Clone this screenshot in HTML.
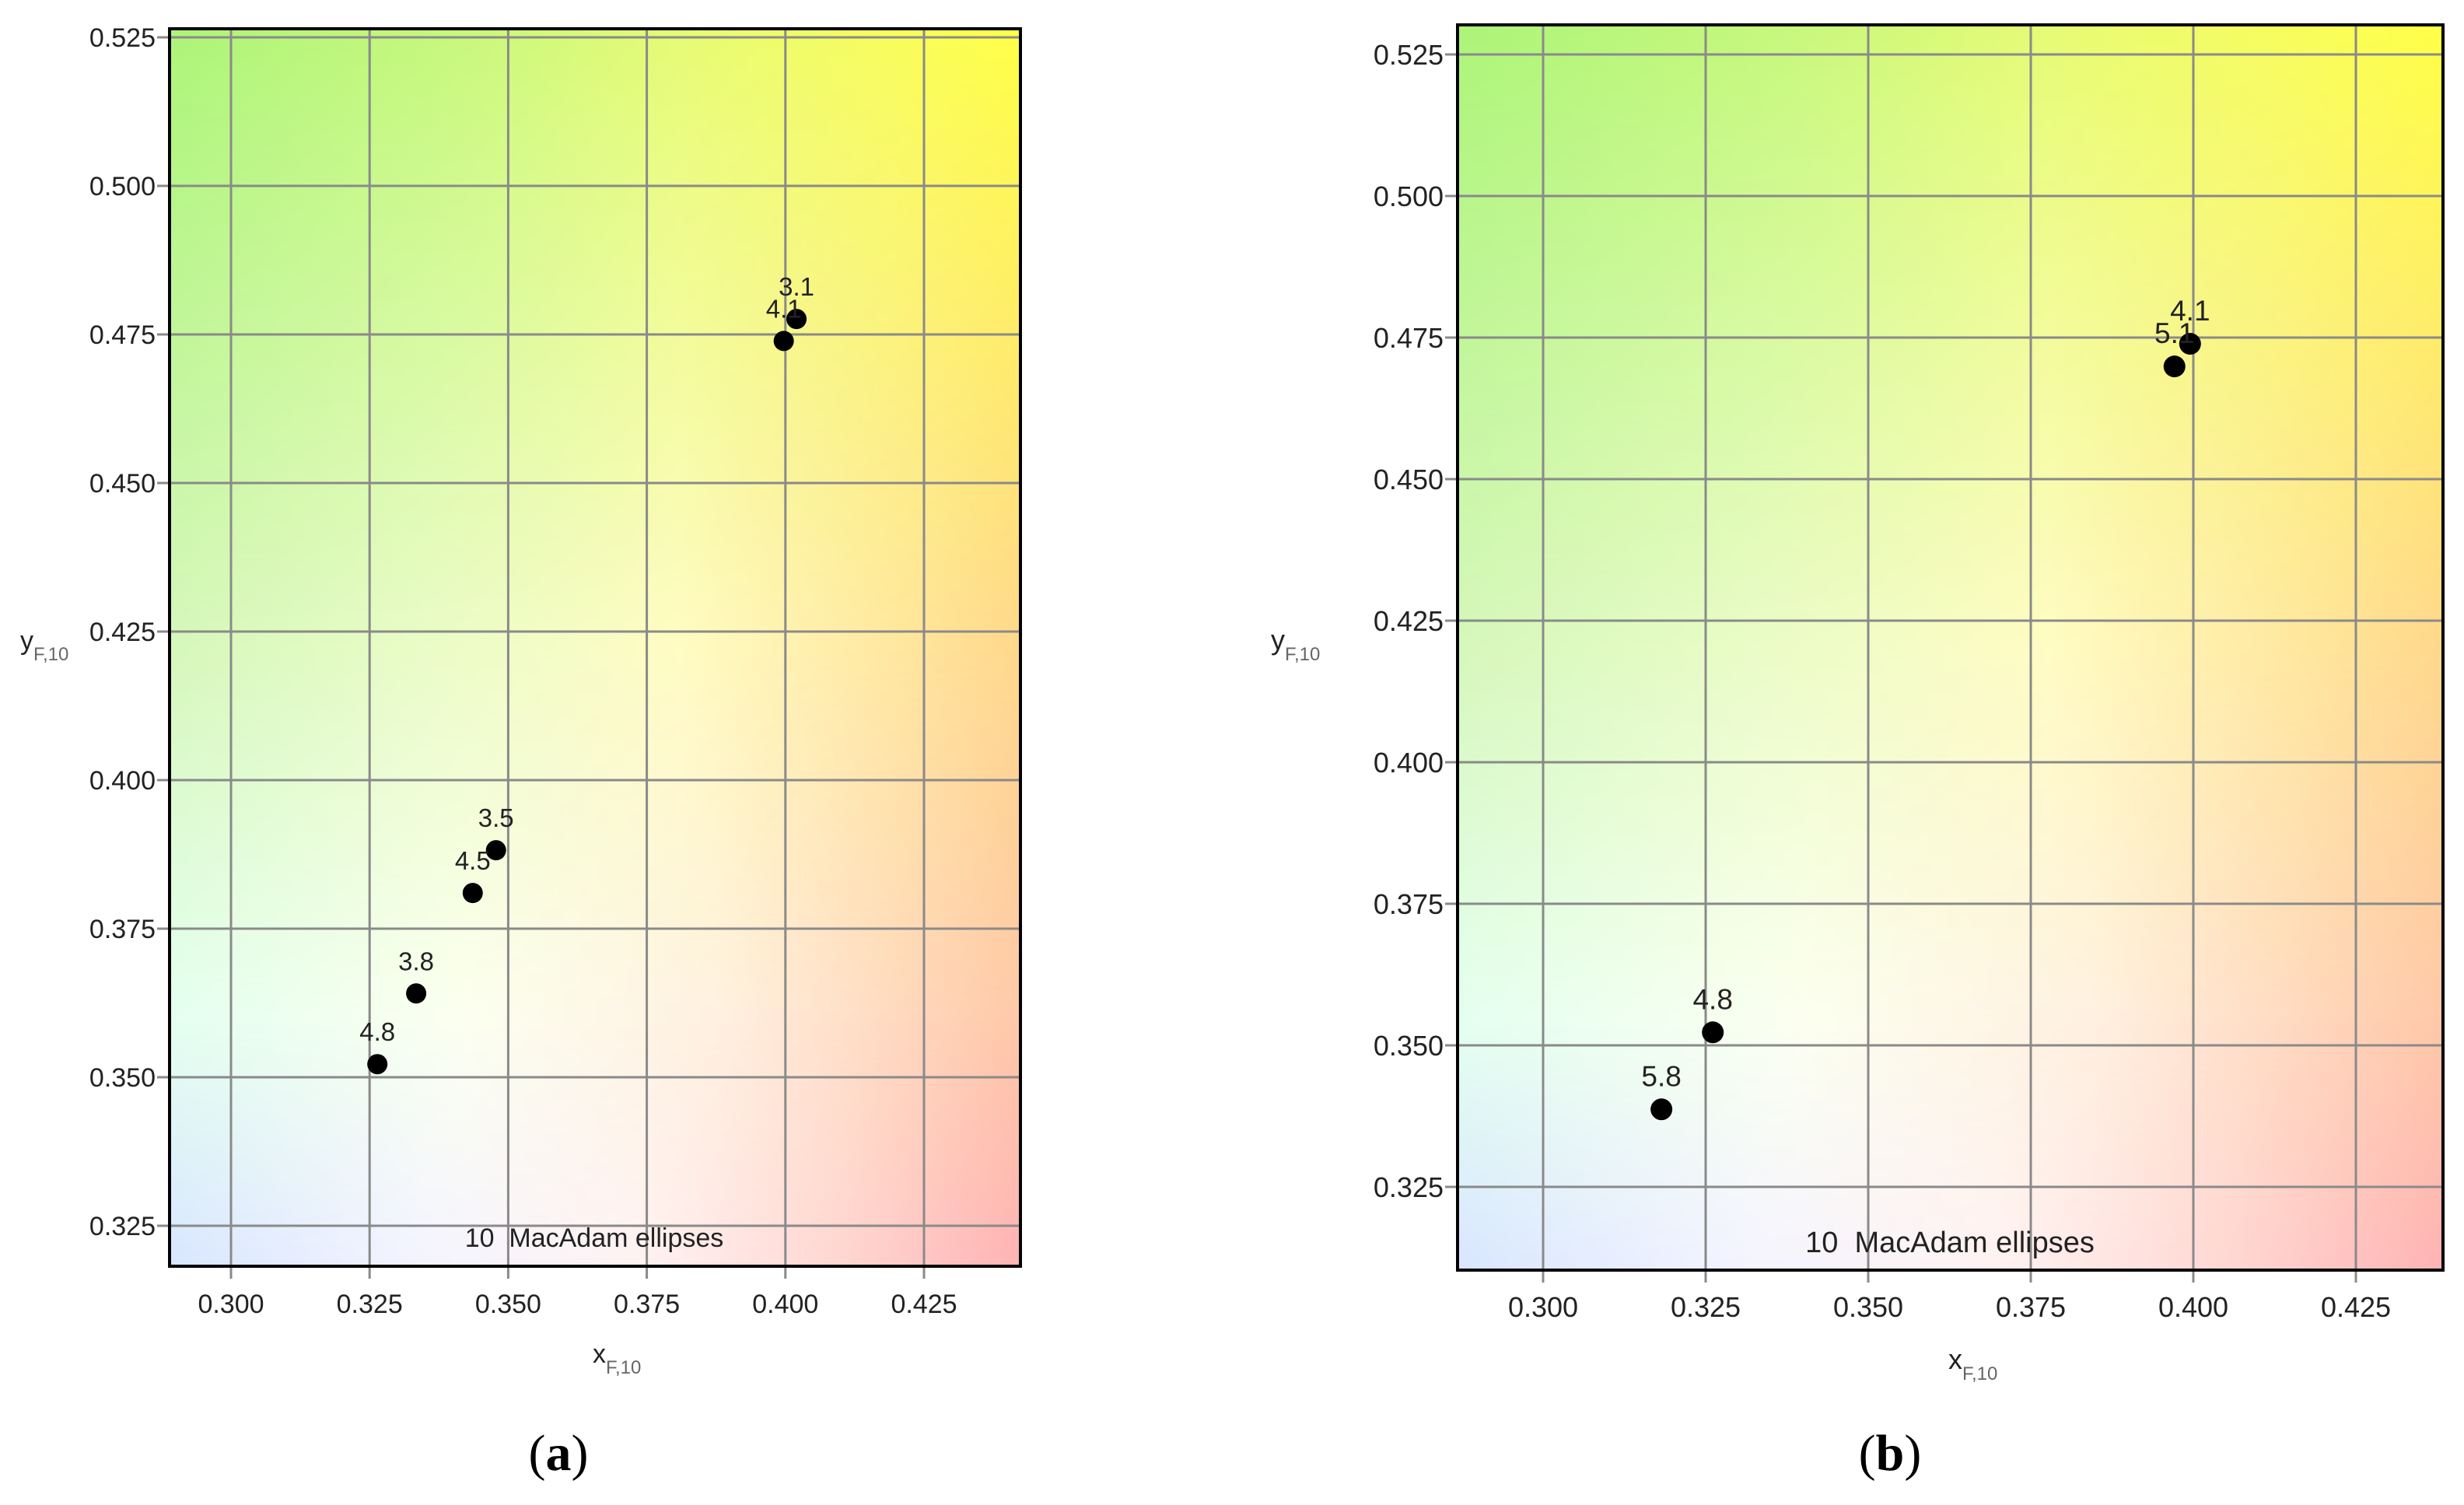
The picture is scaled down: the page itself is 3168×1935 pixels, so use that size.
<!DOCTYPE html>
<html><head><meta charset="utf-8"><style>
html,body{margin:0;padding:0;background:#fff;}
svg{display:block;}
</style></head><body>
<svg id="chart" width="3168" height="1935" viewBox="0 0 3168 1935" xmlns="http://www.w3.org/2000/svg" style="font-family:'Liberation Sans',sans-serif">
<defs>
<linearGradient id="rowTop" x1="0" y1="0" x2="1" y2="0"><stop offset="0" stop-color="#acf478"/><stop offset="0.35" stop-color="#c8f87c"/><stop offset="0.6" stop-color="#e6fb74"/><stop offset="0.85" stop-color="#f8fd5c"/><stop offset="1" stop-color="#ffff46"/></linearGradient>
<linearGradient id="rowMid" x1="0" y1="0" x2="1" y2="0"><stop offset="0" stop-color="#d6f8bc"/><stop offset="0.3" stop-color="#eafcc8"/><stop offset="0.6" stop-color="#fffcc4"/><stop offset="0.85" stop-color="#ffe8a0"/><stop offset="1" stop-color="#ffd88c"/></linearGradient>
<linearGradient id="row80" x1="0" y1="0" x2="1" y2="0"><stop offset="0" stop-color="#e4fff0"/><stop offset="0.35" stop-color="#fcfff0"/><stop offset="0.65" stop-color="#fff0e0"/><stop offset="1" stop-color="#ffc8a8"/></linearGradient>
<linearGradient id="rowBot" x1="0" y1="0" x2="1" y2="0"><stop offset="0" stop-color="#d8e6ff"/><stop offset="0.3" stop-color="#f4f4ff"/><stop offset="0.55" stop-color="#fff2f2"/><stop offset="0.8" stop-color="#ffd4d0"/><stop offset="1" stop-color="#ffb2b4"/></linearGradient>
<linearGradient id="mTopG" x1="0" y1="0" x2="0" y2="1"><stop offset="0" stop-color="#fff"/><stop offset="0.5" stop-color="#000"/></linearGradient>
<linearGradient id="m80G" x1="0" y1="0" x2="0" y2="1"><stop offset="0.5" stop-color="#000"/><stop offset="0.8" stop-color="#fff"/></linearGradient>
<linearGradient id="mBotG" x1="0" y1="0" x2="0" y2="1"><stop offset="0.8" stop-color="#000"/><stop offset="1" stop-color="#fff"/></linearGradient>
<mask id="mTop" maskUnits="objectBoundingBox" maskContentUnits="objectBoundingBox"><rect x="0" y="0" width="1" height="1" fill="url(#mTopG)"/></mask>
<mask id="m80" maskUnits="objectBoundingBox" maskContentUnits="objectBoundingBox"><rect x="0" y="0" width="1" height="1" fill="url(#m80G)"/></mask>
<mask id="mBot" maskUnits="objectBoundingBox" maskContentUnits="objectBoundingBox"><rect x="0" y="0" width="1" height="1" fill="url(#mBotG)"/></mask>
</defs>
<g id="panelA"></g>
<g id="panelB"></g>
</svg>
<script>
// Shared tick values
const xTicks = [0.300, 0.325, 0.350, 0.375, 0.400, 0.425];
const yTicks = [0.325, 0.350, 0.375, 0.400, 0.425, 0.450, 0.475, 0.500, 0.525];
const xTickLabels = ["0.300","0.325","0.350","0.375","0.400","0.425"];
const yTickLabels = ["0.325","0.350","0.375","0.400","0.425","0.450","0.475","0.500","0.525"];
// Panel (a) data
const aLabels = ["3.1","4.1","3.5","4.5","3.8","4.8"];
const aX = [0.4020, 0.3997, 0.3478, 0.3436, 0.3334, 0.3264];
const aY = [0.4776, 0.4739, 0.3882, 0.3810, 0.3641, 0.3522];
// Panel (b) data
const bLabels = ["4.1","5.1","4.8","5.8"];
const bX = [0.3995, 0.3971, 0.3261, 0.3182];
const bY = [0.4739, 0.4699, 0.3523, 0.3387];

const NS = "http://www.w3.org/2000/svg";
function mk(tag, attrs, parent){const e=document.createElementNS(NS,tag);for(const k in attrs)e.setAttribute(k,attrs[k]);parent.appendChild(e);return e;}

function drawPanel(g, cfg, labels, xs, ys){
  const sx = v => cfg.x0 + (v-0.3)/0.025*cfg.dx;
  const sy = v => cfg.y0 + (0.525-v)/0.025*cfg.dy;
  const L=cfg.left,T=cfg.top,R=cfg.right,B=cfg.bottom,W=R-L,H=B-T;
  const bg = mk('g',{},g);
  
  
  mk('rect',{x:L,y:T,width:W,height:H,fill:'url(#rowMid)'},bg);
  mk('rect',{x:L,y:T,width:W,height:H,fill:'url(#rowTop)',mask:'url(#mTop)'},bg);
  mk('rect',{x:L,y:T,width:W,height:H,fill:'url(#row80)',mask:'url(#m80)'},bg);
  mk('rect',{x:L,y:T,width:W,height:H,fill:'url(#rowBot)',mask:'url(#mBot)'},bg);
  const grid = mk('g',{stroke:'#8a8a8a','stroke-width':3},g);
  
  
  xTicks.forEach((v,i)=>{
    const x=sx(v);
    mk('line',{x1:x,y1:T,x2:x,y2:B+16},grid);
    const t=mk('text',{x:x,y:cfg.xLabY,'text-anchor':'middle','font-size':cfg.fs,fill:'#222'},g);
    t.textContent=xTickLabels[i];
    
    
  });
  yTicks.forEach((v,i)=>{
    const y=sy(v);
    mk('line',{x1:L-16,y1:y,x2:R,y2:y},grid);
    const t=mk('text',{x:L-18,y:y+cfg.fs*0.36,'text-anchor':'end','font-size':cfg.fs,fill:'#222'},g);
    t.textContent=yTickLabels[i];
    
    
  });
  const fr=mk('rect',{x:L,y:T,width:W,height:H,fill:'none',stroke:'#000','stroke-width':4},g);
  
  
  const lg=mk('text',{x:cfg.legX,y:cfg.legY,'text-anchor':'middle','font-size':cfg.legFs,fill:'#222'},g);
  lg.textContent='10\u00a0\u00a0MacAdam ellipses';
  
  
  xs.forEach((v,i)=>{
    const cx=sx(v), cy=sy(ys[i]);
    const d=mk('circle',{cx:cx,cy:cy,r:cfg.r,fill:'#000'},g);
    
    
    const t=mk('text',{x:cx,y:cy-30,'text-anchor':'middle','font-size':cfg.ptFs,fill:'#222'},g);
    t.textContent=labels[i];
    
    
  });
  const yt=mk('text',{x:cfg.yTitX,y:cfg.yTitY,'font-size':cfg.fs,fill:'#222'},g);
  yt.innerHTML='y<tspan font-size="24" fill="#666" dy="14">F,10</tspan>';
  
  
  const xt=mk('text',{x:cfg.xTitX,y:cfg.xTitY,'font-size':cfg.fs,fill:'#222'},g);
  xt.innerHTML='x<tspan font-size="24" fill="#666" dy="14">F,10</tspan>';
  
  
  const cap=mk('text',{x:cfg.capX,y:1890,'text-anchor':'middle','font-size':66,fill:'#000',style:"font-family:'Liberation Serif',serif"},g);
  cap.innerHTML='(<tspan font-weight="bold">'+cfg.cap+'</tspan>)';
  
  
}

drawPanel(document.getElementById('panelA'),
  {left:218,top:37,right:1312,bottom:1628,x0:297,dx:178.2,y0:48,dy:191,fs:34,xLabY:1688,
   legX:764,legY:1603,legFs:34,r:13,ptFs:33,yTitX:26,yTitY:835,xTitX:762,xTitY:1752,capX:718,cap:'a'},
  aLabels,aX,aY);
drawPanel(document.getElementById('panelB'),
  {left:1874,top:32,right:3141,bottom:1633,x0:1984,dx:209,y0:70,dy:182,fs:36,xLabY:1693,
   legX:2507,legY:1610,legFs:38,r:14,ptFs:37,yTitX:1634,yTitY:835,xTitX:2505,xTitY:1760,capX:2430,cap:'b'},
  bLabels,bX,bY);
</script>
</body></html>
